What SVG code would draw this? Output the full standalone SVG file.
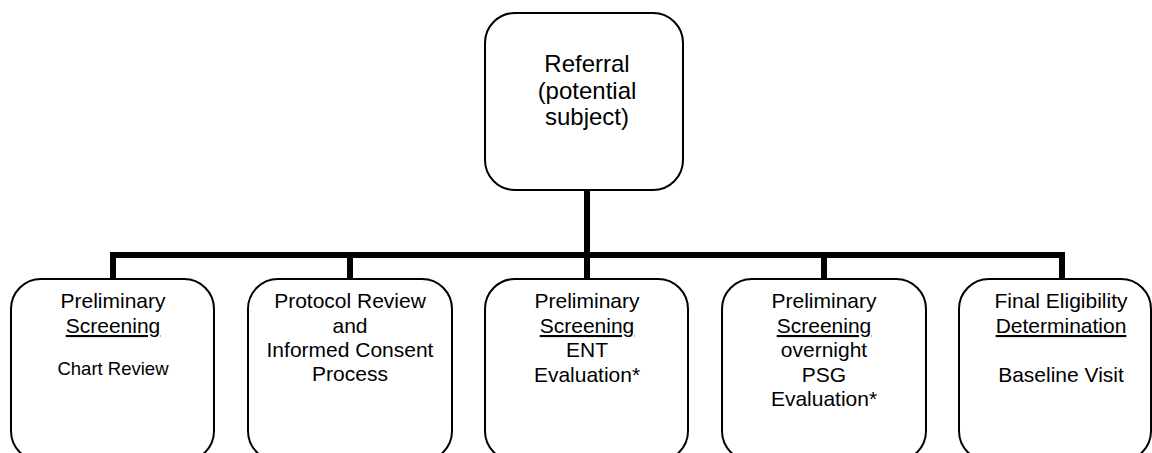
<svg xmlns="http://www.w3.org/2000/svg" width="1152" height="453" viewBox="0 0 1152 453">
<style>
.box{fill:#fff;stroke:#000;stroke-width:2}
.t{font-family:"Liberation Sans",Arial,sans-serif;font-size:21px;fill:#000;text-anchor:middle}
.big{font-size:24px}
.sm{font-size:18.5px}
.conn{fill:none;stroke:#000;stroke-width:6}
</style>
<g id="connectors">
<path class="conn" d="M587 190 V255"/>
<path class="conn" d="M113 279 V255 H1062 V279"/>
<path class="conn" d="M350 255 V279"/>
<path class="conn" d="M587 255 V279"/>
<path class="conn" d="M824 255 V279"/>
</g>
<g id="referral">
<rect class="box" x="485" y="13" width="198" height="177" rx="30"/>
<text class="t big" x="587" y="72">Referral</text>
<text class="t big" x="587" y="99">(potential</text>
<text class="t big" x="587" y="125">subject)</text>
</g>
<g id="chart-review">
<rect class="box" x="11" y="279" width="203" height="182" rx="30"/>
<text class="t" x="113" y="308">Preliminary</text>
<text class="t" x="113" y="333" text-decoration="underline">Screening</text>
<text class="t sm" x="113" y="375">Chart Review</text>
</g>
<g id="protocol-review">
<rect class="box" x="248" y="279" width="204" height="182" rx="30"/>
<text class="t" x="350" y="308">Protocol Review</text>
<text class="t" x="350" y="333">and</text>
<text class="t" x="350" y="357">Informed Consent</text>
<text class="t" x="350" y="381">Process</text>
</g>
<g id="ent-evaluation">
<rect class="box" x="485" y="279" width="203" height="182" rx="30"/>
<text class="t" x="587" y="308">Preliminary</text>
<text class="t" x="587" y="333" text-decoration="underline">Screening</text>
<text class="t" x="587" y="357">ENT</text>
<text class="t" x="587" y="381.5">Evaluation*</text>
</g>
<g id="psg-evaluation">
<rect class="box" x="722" y="279" width="204" height="182" rx="30"/>
<text class="t" x="824" y="308">Preliminary</text>
<text class="t" x="824" y="333" text-decoration="underline">Screening</text>
<text class="t" x="824" y="357">overnight</text>
<text class="t" x="824" y="381.5">PSG</text>
<text class="t" x="824" y="405.5">Evaluation*</text>
</g>
<g id="final-eligibility">
<rect class="box" x="959" y="279" width="192" height="182" rx="30"/>
<text class="t" x="1061" y="308">Final Eligibility</text>
<text class="t" x="1061" y="333" text-decoration="underline">Determination</text>
<text class="t" x="1061" y="381.5">Baseline Visit</text>
</g>
</svg>
